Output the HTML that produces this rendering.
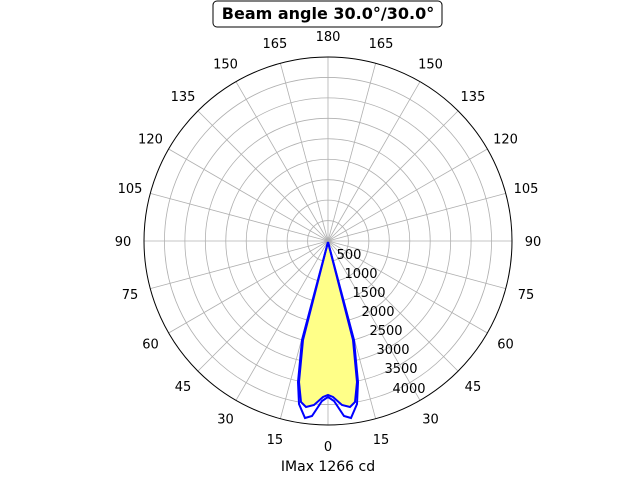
<!DOCTYPE html>
<html><head><meta charset="utf-8"><style>
html,body{margin:0;padding:0;background:#fff;}
svg{display:block;font-family:"DejaVu Sans","Liberation Sans",sans-serif;}
</style></head><body>
<svg id="s" width="640" height="480" viewBox="0 0 640 480" xmlns="http://www.w3.org/2000/svg">
<g id="grid" stroke="#b0b0b0" stroke-width="0.8" fill="none"></g>
<polygon points="328,242 303,340 299,382 301,402 306,407 314,405 323,397 328,395 333,397 342,405 350,407 355,402 357,382 353,340" fill="#ffff88" stroke="none"/>
<polyline points="328,242 302,340 298,382 299,404 305,418 312,416 322,401 328,397 334,401 344,416 351,418 357,404 358,382 354,340 328,242" fill="none" stroke="#0000ff" stroke-width="2"/>
<polyline points="328,242 303,340 299,382 301,402 306,407 314,405 323,397 328,395 333,397 342,405 350,407 355,402 357,382 353,340 328,242" fill="none" stroke="#0000ff" stroke-width="2"/>
<circle cx="328" cy="241" r="184" fill="none" stroke="#000" stroke-width="1"/>
<g id="lbl" font-size="13" fill="#000" text-anchor="middle"></g>
<g font-size="13" fill="#000" text-anchor="middle">
<text x="349" y="259">500</text><text x="361" y="278">1000</text><text x="369" y="297">1500</text>
<text x="378" y="316">2000</text><text x="386" y="335">2500</text><text x="393" y="354">3000</text>
<text x="401" y="373">3500</text><text x="409" y="393">4000</text>
</g>
<rect x="213" y="1" width="229" height="26" rx="4" fill="#fff" stroke="#000" stroke-width="1"/>
<text x="328" y="19" font-size="16" font-weight="bold" text-anchor="middle">Beam angle 30.0°/30.0°</text>
<text x="328" y="471" font-size="14" text-anchor="middle">IMax 1266 cd</text>
</svg>
<script>
var cx=328,cy=241,R=184,g=document.getElementById('grid'),l=document.getElementById('lbl'),ns='http://www.w3.org/2000/svg';
for(var i=1;i<=8;i++){var c=document.createElementNS(ns,'circle');c.setAttribute('cx',cx);c.setAttribute('cy',cy);c.setAttribute('r',R*i/9);g.appendChild(c);}
for(var a=0;a<360;a+=15){var t=a*Math.PI/180;var L=document.createElementNS(ns,'line');L.setAttribute('x1',cx);L.setAttribute('y1',cy);L.setAttribute('x2',cx+R*Math.sin(t));L.setAttribute('y2',cy+R*Math.cos(t));g.appendChild(L);
var v=a<=180?a:360-a;var T=document.createElementNS(ns,'text');T.setAttribute('x',cx+205*Math.sin(t));T.setAttribute('y',cy+205*Math.cos(t)+5);T.textContent=v;l.appendChild(T);}
</script>
</body></html>
